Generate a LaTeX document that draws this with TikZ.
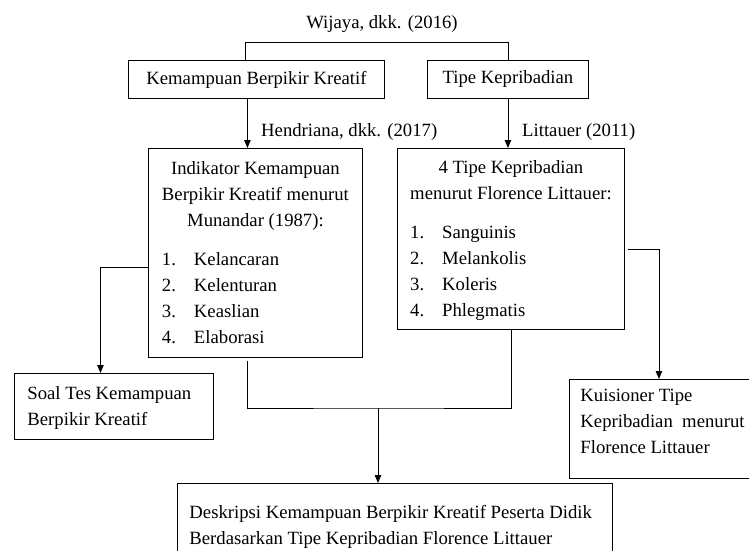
\documentclass[tikz,border=0pt]{standalone}
\usepackage{fontspec}
\setmainfont{Liberation Serif}
\usepackage{array}
\usetikzlibrary{arrows.meta}
\begin{document}
\begin{tikzpicture}[x=1pt,y=-1pt,
  every node/.style={font=\fontsize{18.7}{26}\selectfont, inner sep=0pt},
  box/.style={draw, line width=0.9pt, inner sep=0pt},
  conn/.style={line width=0.9pt},
  arr/.style={conn, -{Triangle[length=8pt,width=6.5pt]}}]
\useasboundingbox (0,0) rectangle (749,551);

\node (title) at (382,24) {Wijaya, dkk. (2016)};
\node[box, minimum width=256pt, minimum height=38pt, anchor=north west] (kbk) at (128,60) {Kemampuan Berpikir Kreatif};
\node[box, minimum width=161pt, minimum height=38pt, anchor=north west] (tk) at (427,60) {Tipe Kepribadian};

\node[box, anchor=north west] (ind) at (148,148) {\parbox[c][209pt][t]{214pt}{\vspace*{7.8pt}\centering
\begin{tabular}[t]{@{}p{32pt}@{}l@{}}
\multicolumn{2}{@{}c@{}}{Indikator Kemampuan}\\
\multicolumn{2}{@{}c@{}}{Berpikir Kreatif menurut}\\
\multicolumn{2}{@{}c@{}}{Munandar (1987):}\\[13pt]
1. & Kelancaran\\
2. & Kelenturan\\
3. & Keaslian\\
4. & Elaborasi
\end{tabular}}};

\node[box, anchor=north west] (tipe) at (397,148) {\parbox[c][181pt][t]{227pt}{\vspace*{7pt}\centering
\begin{tabular}[t]{@{}p{32pt}@{}l@{}}
\multicolumn{2}{@{}c@{}}{4 Tipe Kepribadian}\\
\multicolumn{2}{@{}c@{}}{menurut Florence Littauer:}\\[13pt]
1. & Sanguinis\\
2. & Melankolis\\
3. & Koleris\\
4. & Phlegmatis
\end{tabular}}};

\node[box, anchor=north west] (soal) at (14,373) {\parbox[c][66pt][t]{199pt}{\vspace*{7.8pt}\hspace*{13pt}%
\begin{tabular}[t]{@{}l@{}}Soal Tes Kemampuan\\ Berpikir Kreatif\end{tabular}}};

\node[box, anchor=north west] (kui) at (569,379) {\parbox[c][99pt][t]{186pt}{\vspace*{3.8pt}\hspace*{11pt}%
\begin{tabular}[t]{@{}l@{}}Kuisioner Tipe\\ Kepribadian\ \ menurut\\ Florence Littauer\end{tabular}}};

\node[box, anchor=north west] (desk) at (177,483) {\parbox[c][80pt][t]{435pt}{\vspace*{16.8pt}\hspace*{12pt}%
\begin{tabular}[t]{@{}l@{}}Deskripsi Kemampuan Berpikir Kreatif Peserta Didik\\ Berdasarkan Tipe Kepribadian Florence Littauer\end{tabular}}};

\node[anchor=west] (hend) at (261,132) {Hendriana, dkk. (2017)};
\node[anchor=west] (litt) at (522,132) {Littauer (2011)};

% top bracket
\coordinate (bl) at ([xshift=-11pt]kbk.north);
\coordinate (btop) at (0,42);
\draw[conn] (bl) -- (bl |- btop) -| (tk.north);

% down arrows
\coordinate (a1) at ([xshift=-9pt]kbk.south);
\draw[arr] (a1) -- (a1 |- ind.north);
\draw[arr] (tk.south) -- (tk.south |- tipe.north);

% to Soal
\coordinate (s3) at ([yshift=-14.5pt]ind.west);
\draw[arr] (s3) -| ([xshift=-13.5pt]soal.north);

% to Kuisioner
\coordinate (s4) at ([xshift=3pt,yshift=-10.5pt]tipe.east);
\draw[arr] (s4) -| ([xshift=-3.5pt]kui.north);

% merge to Deskripsi
\coordinate (ml) at ([xshift=-8pt,yshift=-3pt]ind.south);
\coordinate (j) at (378,408);
\draw[conn] (ml) |- (j) -| (tipe.south);
\draw[arr] (j) -- (j |- desk.north);
\end{tikzpicture}
\end{document}
